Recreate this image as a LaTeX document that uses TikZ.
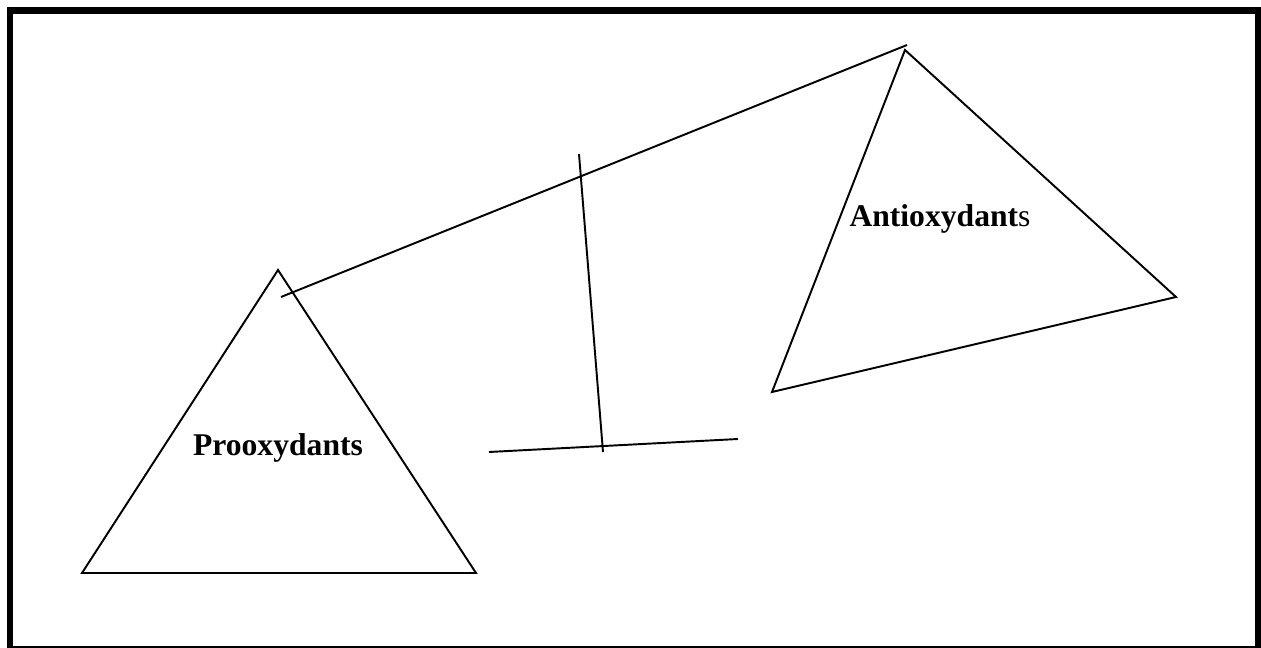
\documentclass[tikz,border=0pt]{standalone}
\usepackage{fontspec}
\setmainfont{Liberation Serif}
\usetikzlibrary{positioning, calc}

\begin{document}
\begin{tikzpicture}[
    x=0.02cm, y=-0.02cm,   % <── pixel grid of the sketch, y downwards
    frame/.style={line width=3.6pt, line cap=rect},
    side/.style={line width=1.1pt, line join=miter},
    label_node/.style={font=\fontsize{18}{20}\selectfont, anchor=base, inner sep=0pt}
    ]
    \useasboundingbox (0,0) rectangle (1261,648);

    % Frame
    \draw[frame] (10,648) -- (10,10.5) -- (1258,10.5) -- (1258,648);
    \draw[line width=0.6pt] (10,647) -- (1258,647);

    % Corners of the two triangles
    \coordinate (p_top) at (278,270);
    \coordinate (p_left) at (82,573);
    \coordinate (p_right) at (476,573);
    \coordinate (a_top) at (905,50);
    \coordinate (a_right) at (1176,297);
    \coordinate (a_left) at (772,392);

    % Ends of the beam, post and base
    \coordinate (beam_l) at (281,297);
    \coordinate (beam_r) at (907,45);
    \coordinate (post_t) at (579,154);
    \coordinate (post_b) at (603,452);
    \coordinate (base_l) at (489,452);
    \coordinate (base_r) at (738,439);

    % Triangles
    \draw[side] (p_top) -- (p_left) -- (p_right) -- cycle;
    \draw[side] (a_top) -- (a_right) -- (a_left) -- cycle;

    % Balance
    \draw[side] (beam_l) -- (beam_r);
    \draw[side] (post_t) -- (post_b);
    \draw[side] (base_l) -- (base_r);

    % Labels
    \node[label_node] (pro) at (278,456) {\textbf{Prooxydants}};
    \node[label_node] (anti) at (940,227) {\textbf{Antioxydant}s};
\end{tikzpicture}
\end{document}
